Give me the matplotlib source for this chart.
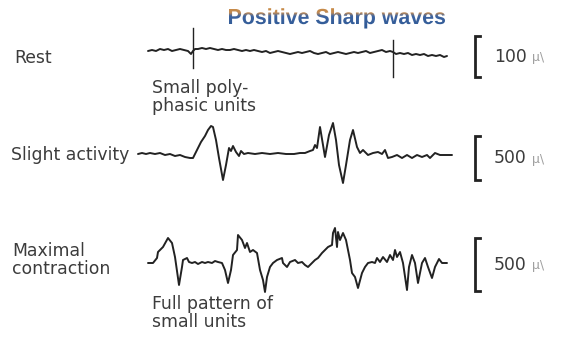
import numpy as np
import matplotlib
matplotlib.use("Agg")
import matplotlib.pyplot as plt
from matplotlib.textpath import TextPath
from matplotlib.font_manager import FontProperties
from matplotlib.patches import PathPatch
from matplotlib.transforms import Affine2D
from matplotlib.colors import LinearSegmentedColormap

# ---- EMG traces (time axis in px along the sweep, amplitude in px, up = positive)
rest_t = [148, 152, 156, 160, 164, 168, 172, 176, 180, 184, 188, 191, 193, 195, 198,
          202, 206, 210, 214, 218, 222, 226, 230, 234, 238, 242, 246, 250, 254, 258,
          262, 266, 270, 274, 278, 282, 286, 290, 294, 298, 302, 306, 310, 314, 318,
          322, 326, 330, 334, 338, 342, 346, 350, 354, 358, 362, 366, 370, 374, 378,
          382, 386, 390, 393, 396, 400, 404, 408, 412, 416, 420, 424, 428, 432, 436,
          440, 444, 447]
rest_amp = [1, 2, 1, 3, 2, 3, 1, 2, 3, 2, 1, -2, 1, 3, 3,
            4, 3, 4, 3, 2, 3, 2, 2, 3, 2, 1, 2, 1, 2, 1,
            0, 1, -1, 0, 1, 0, -1, -2, -1, 0, -1, 0, 1, -1, -2,
            -1, 0, -2, -1, 0, -1, -2, -1, 0, -1, 0, 1, -1, 0, 1,
            2, 0, 1, 0, -2, -1, -2, -1, -3, -2, -3, -2, -4, -3, -4,
            -3, -5, -4]
# positive sharp waves: time, top and bottom amplitude of each vertical stroke
rest_spike_t = [193, 393]
rest_spike_top = [24, 12]
rest_spike_bot = [-16, -25]

slight_t = [138, 142, 146, 150, 155, 160, 165, 170, 175, 180, 185, 190, 193, 197, 201,
            205, 208, 211, 213, 216, 219, 223, 226, 229, 231, 233, 236, 239, 241, 244,
            248, 255, 262, 270, 278, 286, 294, 300, 305, 310, 313, 315, 317, 320, 323,
            325, 329, 333, 336, 339, 343, 346, 350, 353, 357, 360, 363, 368, 373, 378,
            382, 385, 388, 392, 397, 402, 407, 412, 417, 422, 427, 430, 435, 440, 445,
            452]
slight_amp = [0, 1, 0, 1, 0, 1, -1, 0, -2, -1, -3, -4, -4, 4, 12,
              18, 24, 28, 27, 14, -4, -26, -11, 6, 3, 8, 2, -2, 3, 0,
              1, 0, 1, 0, 1, 0, 0, 1, 1, 3, 4, 9, 6, 27, 9,
              -3, 19, 31, 14, -11, -29, -11, 14, 24, 7, 1, 4, -1, 1, 2,
              0, 4, -4, -3, -1, -4, -1, -4, -1, -3, -1, -4, 1, -1, -1,
              -1]

max_t = [148, 153, 157, 158, 160, 163, 168, 172, 175, 179, 182, 183, 187, 189, 192,
         195, 198, 202, 205, 208, 212, 215, 218, 222, 225, 228, 231, 233, 237, 238,
         242, 245, 247, 250, 253, 257, 260, 263, 265, 267, 270, 273, 277, 282, 283,
         287, 290, 295, 298, 302, 305, 308, 312, 315, 318, 322, 325, 328, 332, 333,
         335, 337, 338, 340, 343, 346, 350, 352, 355, 358, 362, 365, 368, 372, 375,
         377, 380, 383, 387, 390, 393, 395, 397, 400, 403, 407, 409, 412, 415, 418,
         422, 425, 428, 432, 435, 437, 439, 442, 447]
max_amp = [1, 1, 6, 12, 14, 17, 26, 21, 7, -21, -3, 4, 6, 2, 1,
           2, 0, 2, 1, 2, 1, 3, 2, 1, -6, -19, -6, 9, 14, 29,
           24, 16, 21, 12, 14, 11, -6, -16, -28, -13, -3, 1, 4, 6, 1,
           -3, 2, 4, 1, 2, -1, -3, 1, 4, 6, 11, 14, 17, 19, 31,
           36, 17, 32, 24, 31, 24, 4, -9, -13, -24, -9, -3, 1, 2, 1,
           6, 2, 7, 2, 9, 4, 14, 7, 12, 1, -26, -3, 9, 1, -19,
           1, 6, -3, -14, -3, 1, 5, 1, 1]

# ---- labels and calibration
row_names = ["Rest", "Slight activity", "Maximal\ncontraction"]
row_notes = ["Small poly-\nphasic units", None, "Full pattern of\nsmall units"]
cal_values = ["100", "500", "500"]
cal_unit = "\u00b5\\"
title = "Positive Sharp waves"

# ---- layout (figure pixels, y downward)
W, H = 562, 349
baselines = [52, 154, 264]
label_pos = [(14, 58), (11, 155), (12, 260)]
note_pos = [(152, 97), None, (152, 313)]
bracket_x = 475
bracket_span = [(36, 77), (136, 180), (238, 291)]
cal_text_x = 494
ink = "#222222"
text_col = "#3c3c3c"
font = "DejaVu Sans"
fs = 12.4

fig = plt.figure(figsize=(W / 100, H / 100), dpi=100)
ax = fig.add_axes([0, 0, 1, 1])
ax.set_xlim(0, W)
ax.set_ylim(H, 0)
ax.axis("off")

lw = 1.4
traces = [(rest_t, rest_amp), (slight_t, slight_amp), (max_t, max_amp)]
for (t, a), base in zip(traces, baselines):
    ax.plot(t, base - np.asarray(a, float), color=ink, lw=lw,
            solid_joinstyle="round", solid_capstyle="round")

for t, top, bot in zip(rest_spike_t, rest_spike_top, rest_spike_bot):
    ax.plot([t, t], [baselines[0] - top, baselines[0] - bot], color=ink, lw=1.0)

for name, (x, y) in zip(row_names, label_pos):
    ax.text(x, y, name, ha="left", va="center", fontsize=fs, color=text_col,
            family=font, linespacing=1.05)
for note, pos in zip(row_notes, note_pos):
    if note is None:
        continue
    ax.text(pos[0], pos[1], note, ha="left", va="center", fontsize=fs,
            color=text_col, family=font, linespacing=1.05)

for (y0, y1), val in zip(bracket_span, cal_values):
    ax.plot([bracket_x + 5, bracket_x, bracket_x, bracket_x + 5], [y0, y0, y1, y1],
            color=ink, lw=2.0, solid_joinstyle="miter")
    yc = (y0 + y1) / 2
    ax.text(cal_text_x, yc, val, ha="left", va="center", fontsize=fs,
            color=text_col, family=font)
    ax.text(cal_text_x + 38, yc + 1, cal_unit, ha="left", va="center", fontsize=9,
            color="#a0a0a0", family=font)

# title with orange-to-blue fill
fp = FontProperties(family="Liberation Sans", weight="bold")
tp = TextPath((0, 0), title, size=100, prop=fp)
ext = tp.get_extents()
cap = TextPath((0, 0), "P", size=100, prop=fp).get_extents().height
sx = 216 / ext.width
sy = 15 / cap
x0, y_base = 229, 24
tr = Affine2D().translate(-ext.x0, 0).scale(sx, -sy).translate(x0, y_base)
path = tr.transform_path(tp)
patch = PathPatch(path, facecolor="none", edgecolor="none")
ax.add_patch(patch)
pb = path.get_extents()
cmap = LinearSegmentedColormap.from_list(
    "ob", [(0, "#c98a45"), (0.22, "#bf8a55"), (0.38, "#3e64a0"), (1, "#2c5794")])
grad = np.linspace(0, 1, 64).reshape(-1, 1)
im = ax.imshow(grad, cmap=cmap, aspect="auto",
               extent=(pb.x0, pb.x1, pb.y1, pb.y0), interpolation="bilinear")
im.set_clip_path(patch)
ax.set_xlim(0, W)
ax.set_ylim(H, 0)

fig.savefig("out.png", dpi=100, facecolor="white")
